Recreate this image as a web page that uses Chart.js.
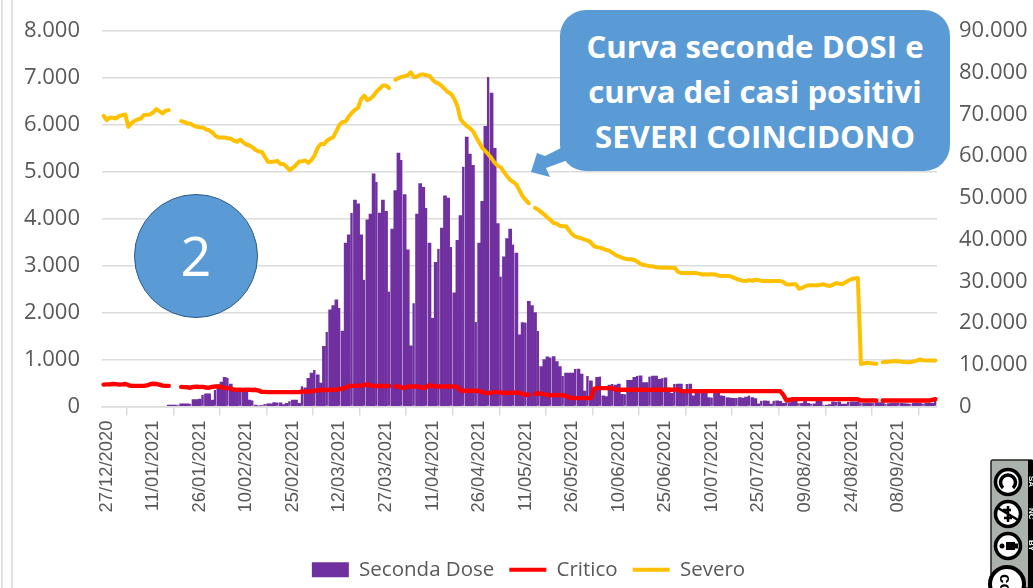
<!DOCTYPE html>
<html lang="it">
<head>
<meta charset="utf-8">
<title>Seconda Dose, Critico, Severo</title>
<script src="https://cdn.jsdelivr.net/npm/chart.js@4"></script>
<style>
html,body{margin:0;padding:0;background:#fff;width:1033px;height:588px;overflow:hidden}
#wrap{position:relative;width:1033px;height:588px;overflow:hidden}
canvas{position:absolute;left:0;top:0}
.vline{position:absolute;top:0;bottom:0;width:1.5px;background:#e0e0e0}
#callout{position:absolute;left:560px;top:10px;width:390px;height:161px;border-radius:26px;background:#5b9bd5;color:#fff;
 font:700 31.2px/45px "Open Sans",sans-serif;text-align:center;box-sizing:border-box;padding-top:14px;white-space:nowrap}
#circle{position:absolute;left:134px;top:194px;width:124px;height:124px;border-radius:50%;background:#5b9bd5;border:1.5px solid #2e5c87;box-sizing:border-box;
 color:#fff;font:400 54px/120px "Open Sans",sans-serif;text-align:center}
svg.ov{position:absolute;left:0;top:0}
</style>
</head>
<body>
<div id="wrap">
<div class="vline" style="left:1px"></div>
<div class="vline" style="left:11px"></div>
<canvas id="c" width="1057" height="588" style="width:1057px;height:588px"></canvas>
<svg class="ov" width="1033" height="588" viewBox="0 0 1033 588">
  <polygon points="561,148 545,156 537,153 531,172 550,177 546,168 568,160" fill="#5b9bd5"/>
  <g>
    <rect x="991" y="460" width="42" height="128" rx="2" fill="#aab2ab" stroke="#222" stroke-width="1.5"/>
    <rect x="1028" y="460" width="5" height="128" fill="#000"/>
    <g font-family="Liberation Sans" font-weight="700" font-size="8" fill="#fff">
      <text transform="translate(1029,476) rotate(90)">SA</text>
      <text transform="translate(1029,508) rotate(90)">NC</text>
      <text transform="translate(1029,540) rotate(90)">BY</text>
    </g>
    <circle cx="1008" cy="482" r="12.5" fill="#fff" stroke="#000" stroke-width="3.5"/>
    <path d="M1003,488 a7.5,7.5 0 1 1 10,0" fill="none" stroke="#000" stroke-width="3.5"/>
    <circle cx="1008" cy="514" r="12.5" fill="#fff" stroke="#000" stroke-width="3.5"/>
    <path d="M998,508 L1018,520 M1008,506 v16 M1003,510 h8 M1004,518 h8" fill="none" stroke="#000" stroke-width="2.5"/>
    <circle cx="1008" cy="546" r="12.5" fill="#fff" stroke="#000" stroke-width="3.5"/>
    <circle cx="1002" cy="546" r="2.5" fill="#000"/>
    <rect x="1006" y="542" width="9" height="8" fill="#000"/>
    <rect x="1015" y="543.5" width="3" height="5" fill="#000"/>
    <circle cx="1007" cy="584" r="17" fill="#fff" stroke="#000" stroke-width="4"/>
    <text transform="translate(1000,574) rotate(90)" font-family="Liberation Sans" font-weight="700" font-size="17" fill="#000">cc</text>
  </g>
</svg>
<div id="callout">Curva seconde DOSI e<br>curva dei casi positivi<br>SEVERI COINCIDONO</div>
<div id="circle">2</div>
</div>
<script>
const tickLabels = ["27/12/2020","11/01/2021","26/01/2021","10/02/2021","25/02/2021","12/03/2021","27/03/2021","11/04/2021","26/04/2021","11/05/2021","26/05/2021","10/06/2021","25/06/2021","10/07/2021","25/07/2021","09/08/2021","24/08/2021","08/09/2021"];
const leftTicks = ["0","1.000","2.000","3.000","4.000","5.000","6.000","7.000","8.000"];
const rightTicks = ["0","10.000","20.000","30.000","40.000","50.000","60.000","70.000","80.000","90.000"];

const secondaDose = [
null,null,null,null,null,null,null,null,null,null,
null,null,null,null,null,null,null,null,null,null,
null,30,30,30,35,55,55,55,60,150,
150,160,250,270,270,140,350,460,520,620,
610,480,350,350,340,320,320,140,130,30,
10,20,55,55,60,85,85,80,40,70,
110,140,140,70,430,400,600,710,780,675,
500,1280,1585,2060,2150,2275,2100,1610,3480,3660,
4120,4400,4320,3660,2700,3980,4100,4960,4785,4120,
4400,4160,2450,3780,4600,5400,5250,4515,3340,1295,
2200,4100,4750,4670,4230,3480,1880,3070,3360,3800,
4490,4440,3400,2420,3540,4070,5110,5740,5380,5140,
1800,3480,4370,5970,7020,6680,5500,3900,2770,3190,
3580,3780,3450,3270,1530,1790,1790,2240,2150,2000,
1610,850,1000,1060,1045,1065,960,850,650,710,
710,710,800,800,690,330,650,550,400,620,
640,230,210,455,480,455,480,260,260,560,
560,620,655,655,510,510,640,650,650,580,
600,610,400,280,480,480,480,350,480,480,
230,330,330,330,330,190,190,330,330,230,
230,190,180,175,180,190,180,200,235,190,
170,60,125,120,115,50,125,120,110,70,
85,85,120,120,70,70,120,70,60,60,
110,110,35,30,40,100,100,100,50,50,
100,100,100,100,70,70,75,70,70,85,
85,85,60,65,70,75,80,70,65,60,
60,70,80,75,65,70,75,70,120
];

const critico = [
5250,5300,5300,5400,5350,5250,5300,5400,5150,4950,
4950,4950,4950,4950,5050,5350,5450,5400,5250,5000,
4950,4950,null,null,null,4700,4650,4600,4500,4700,
4750,4700,4700,4550,4500,4700,4800,4800,4700,4400,
4400,4300,4000,4000,4000,3950,4000,4000,3950,4000,
3800,3500,3500,3450,3440,3440,3440,3440,3440,3440,
3440,3440,3440,3450,3600,3600,3600,3620,3800,3900,
3950,3950,3950,4000,4000,4000,4200,4300,4500,4900,
4950,4950,5000,5000,5100,5300,5050,4900,4900,4900,
4900,4900,4900,null,4800,4800,4600,4400,4800,4800,
4800,4800,4700,4400,4700,5100,4950,4800,4800,4800,
4800,4800,4800,4800,4700,3900,3760,3760,3760,3760,
3760,3700,3500,3250,3200,3300,3440,3440,3350,3200,
3300,3300,3300,3300,3300,3000,2800,2800,null,3040,
3100,3100,2950,2750,2720,2720,2720,2720,2720,2500,
2200,2000,2000,2000,2000,2000,2000,2000,4200,4400,
4400,4400,4400,4400,4400,4000,4000,4050,4000,4000,
4000,4000,4000,4000,4000,4000,3980,4000,4000,4000,
4000,4000,4000,4000,4050,4050,3680,3680,3680,3680,
3680,3680,3680,3680,3680,3680,3680,3680,3680,3680,
3680,3680,3680,3680,3680,3680,3680,3680,3680,3680,
3680,3680,3680,3680,3680,3680,3680,3680,3680,2800,
1440,1600,1760,1760,1760,1760,1760,1760,1760,1760,
1760,1760,1760,1760,1760,1760,1760,1760,1760,1760,
1760,1760,1760,1760,1440,1440,1440,1450,1440,1440,
null,1440,1440,1440,1440,1440,1440,1440,1440,1440,
1440,1440,1440,1440,1440,1440,1440,1600,1760
];

const severo = [
69680,68640,69280,69200,69040,69600,69800,70000,67040,67900,
68480,68800,69000,69840,69900,70000,70500,71280,70800,70240,
70900,71040,null,null,null,68400,68200,67800,67800,67300,
67040,66900,66900,66400,66200,65700,64900,64480,64450,64480,
64300,64200,63700,63440,64000,63300,62800,62560,62100,61500,
61120,61000,59800,58640,58600,58700,58880,58100,58100,57400,
56640,57200,57900,58700,58800,58960,58400,59100,60200,62000,
62900,62900,63700,64200,64560,66000,67500,68200,68300,69500,
70400,71100,71600,73700,74500,73400,73800,74500,75500,76200,
76950,76960,76300,null,78300,78700,79000,79200,79400,80100,
78900,79100,79500,79600,79400,79250,78300,77700,77400,76800,
76000,75300,74900,73700,72000,68800,68000,67200,66700,66000,
64600,63300,62000,61200,60400,59500,58400,57700,57300,56200,
55200,54300,53800,53200,51800,50400,49500,48700,null,47600,
47200,46600,46000,45300,44700,44000,43840,43300,43200,43200,
42200,41300,40700,40500,40300,40000,39800,39300,38400,38200,
38080,37800,37500,37300,36800,36300,36000,35700,35400,35280,
35280,35100,34700,34200,33900,33800,33600,33600,33350,33300,
33280,33300,33280,33250,33280,32300,32000,32000,32000,31980,
32000,31980,31800,31650,31680,31660,31680,31650,31400,31280,
31250,31280,31200,30900,30560,30300,30150,30080,30300,30100,
30400,30300,30100,30080,30100,30080,30090,30080,30080,29800,
29280,29250,29300,29300,28240,28400,28800,29040,29050,29040,
29040,29200,29280,29000,28900,29200,29600,29400,29300,29800,
30200,30560,30700,30800,10200,10300,10500,10400,10300,10250,
null,10600,10700,10700,10800,10880,10850,10700,10640,10620,
10640,10800,11000,11280,11100,11000,11040,11000,11040
];

const categories = secondaDose.map((_, i) => {
  const d = new Date(Date.UTC(2020, 11, 27 + i));
  return String(d.getUTCDate()).padStart(2, "0") + "/" + String(d.getUTCMonth() + 1).padStart(2, "0") + "/" + d.getUTCFullYear();
});

const INK = "#595959", GRID = "#dcdcdc", FONT = '"Open Sans", sans-serif';
const legendItems = [
  {text:"Seconda Dose", fillStyle:"#7030a0", strokeStyle:"#7030a0", lineWidth:0, pointStyle:"rect", datasetIndex:0, hidden:false, fontColor:INK},
  {text:"Critico", fillStyle:"#ff0000", strokeStyle:"#ff0000", lineWidth:4, pointStyle:"line", datasetIndex:1, hidden:false, fontColor:INK},
  {text:"Severo", fillStyle:"#ffc000", strokeStyle:"#ffc000", lineWidth:4, pointStyle:"line", datasetIndex:2, hidden:false, fontColor:INK}
];

new Chart(document.getElementById("c"), {
  type: "bar",
  data: {
    labels: categories,
    datasets: [
      {type:"bar", label:"Seconda Dose", data:secondaDose, yAxisID:"y", order:3,
       backgroundColor:"#7030a0", barPercentage:1, categoryPercentage:1, inflateAmount:0.3,
       borderColor:"rgba(255,255,255,0.72)",
       borderWidth:ctx => ctx.dataIndex % 4 === 0 ? {right:1,left:0,top:0,bottom:0} : 0},
      {type:"line", label:"Critico", data:critico, yAxisID:"y2", order:2, borderColor:"#ff0000", backgroundColor:"#ff0000",
       borderWidth:4.4, pointRadius:0, tension:0, spanGaps:false, borderCapStyle:"round", borderJoinStyle:"round"},
      {type:"line", label:"Severo", data:severo, yAxisID:"y2", order:1, borderColor:"#ffc000", backgroundColor:"#ffc000",
       borderWidth:4, pointRadius:0, tension:0, spanGaps:false, borderCapStyle:"round", borderJoinStyle:"round"}
    ]
  },
  options: {
    responsive:false, animation:false,
    layout:{padding:{left:0,right:0,top:31,bottom:-2}},
    plugins:{
      tooltip:{enabled:false},
      legend:{display:true, position:"bottom", align:"center",
        labels:{usePointStyle:true, pointStyleWidth:37, boxHeight:15, padding:15, color:INK,
          font:{family:FONT,size:20.5}, generateLabels:() => legendItems}}
    },
    scales:{
      x:{
        offset:true,
        grid:{offset:true, drawOnChartArea:false, color:GRID, tickLength:9, lineWidth:1.5},
        border:{display:true, color:GRID, width:1.5},
        ticks:{autoSkip:false, maxRotation:90, minRotation:90, color:INK, padding:5, labelOffset:3,
          font:{family:'"Liberation Sans", sans-serif',size:18.4},
          callback:(v,i) => i % 15 === 0 ? tickLabels[i / 15] : null},
        afterFit:s => { s.height = 138; }
      },
      y:{
        position:"left", min:0, max:8000,
        grid:{color:GRID, lineWidth:1.5, drawTicks:false},
        border:{display:false},
        ticks:{stepSize:1000, padding:22, color:INK, font:{family:FONT,size:22}, callback:v => leftTicks[v / 1000]},
        afterFit:s => { s.width = 102; s.paddingTop = 0; s.paddingBottom = 0; }
      },
      y2:{
        position:"right", min:0, max:90000,
        grid:{drawOnChartArea:false, drawTicks:false},
        border:{display:false},
        ticks:{stepSize:10000, padding:22, color:INK, font:{family:FONT,size:22}, callback:v => rightTicks[v / 10000]},
        afterFit:s => { s.width = 120; s.paddingTop = 0; s.paddingBottom = 0; }
      }
    }
  }
});
</script>
</body>
</html>
